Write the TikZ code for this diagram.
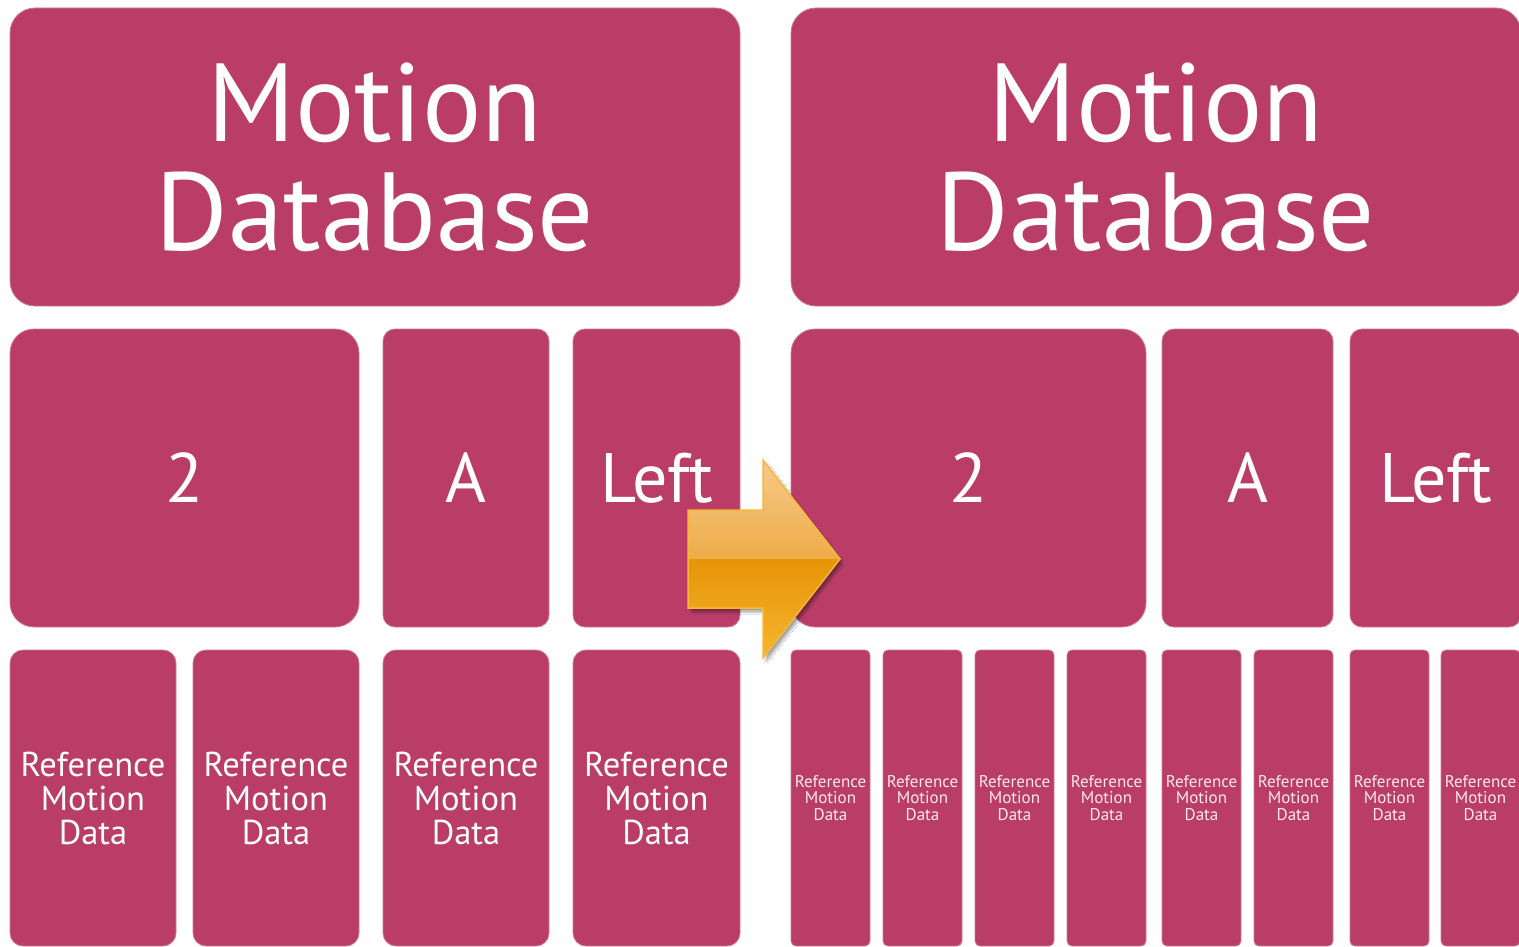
\documentclass[tikz,border=0pt]{standalone}
\usepackage{fontspec}
\setmainfont{PT Sans}
\usetikzlibrary{shadows.blur}
\definecolor{mag}{RGB}{185,61,103}
\definecolor{magedge}{RGB}{205,120,152}
\definecolor{arTopA}{RGB}{247,203,140}
\definecolor{arTopB}{RGB}{238,172,72}
\definecolor{arBotA}{RGB}{230,148,8}
\definecolor{arBotB}{RGB}{248,184,48}
\definecolor{arEdge}{RGB}{246,184,58}
\tikzset{
  box/.style={fill=mag, draw=magedge, line width=0.8pt, inner sep=0pt, outer sep=0pt,
    anchor=north west, text=white, align=center},
  bigtxt/.style={font=\fontsize{111}{109}\selectfont},
  midtxt/.style={font=\fontsize{70}{72}\selectfont},
  reftxt/.style={font=\fontsize{34.5}{34}\selectfont},
  smalltxt/.style={font=\fontsize{17}{16.5}\selectfont, text={rgb,255:red,250;green,232;blue,238}},
}
\begin{document}
\begin{tikzpicture}[x=1pt,y=-1pt]
\clip (0,0) rectangle (1519,947);
\fill[white] (0,0) rectangle (1519,947);
% ---------- left half ----------
\node[box, bigtxt, rounded corners=25pt, minimum width=730pt, minimum height=298pt] (ldb) at (10,8) {Motion\\Database};
\node[box, midtxt, rounded corners=24pt, minimum width=349pt, minimum height=298pt] (l2) at (10,329) {2};
\node[box, midtxt, rounded corners=12pt, minimum width=166pt, minimum height=298pt] (lA) at (383,329) {A};
\node[box, midtxt, rounded corners=12pt, minimum width=167pt, minimum height=298pt] (lL) at (573,329) {Left};
\node[box, reftxt, rounded corners=13pt, minimum width=166pt, minimum height=296pt] (lr1) at (10,650) {Reference\\Motion\\Data};
\node[box, reftxt, rounded corners=13pt, minimum width=166pt, minimum height=296pt] (lr2) at (193,650) {Reference\\Motion\\Data};
\node[box, reftxt, rounded corners=13pt, minimum width=166pt, minimum height=296pt] (lr3) at (383,650) {Reference\\Motion\\Data};
\node[box, reftxt, rounded corners=13pt, minimum width=167pt, minimum height=296pt] (lr4) at (573,650) {Reference\\Motion\\Data};
% ---------- right half ----------
\node[box, bigtxt, rounded corners=25pt, minimum width=730pt, minimum height=298pt] (rdb) at (791,8) {Motion\\Database};
\node[box, midtxt, rounded corners=24pt, minimum width=355pt, minimum height=298pt] (r2) at (791,329) {2};
\node[box, midtxt, rounded corners=12pt, minimum width=171pt, minimum height=298pt] (rA) at (1162,329) {A};
\node[box, midtxt, rounded corners=12pt, minimum width=171pt, minimum height=298pt] (rL) at (1350,329) {Left};
\foreach \i/\x in {1/791,2/883,3/975,4/1067,5/1162,6/1254,7/1350,8/1441}{
  \node[box, smalltxt, rounded corners=5pt, minimum width=79pt, minimum height=296pt] (rr\i) at (\x,650) {Reference\\Motion\\Data};
}
% ---------- arrow ----------
\def\arrowpath{(688,510) -- (763,510) -- (763,460) -- (840,559) -- (763,658) -- (763,608) -- (688,608) -- cycle}
\fill[white, blur shadow={shadow xshift=3pt, shadow yshift=-4pt, shadow blur steps=12, shadow blur extra rounding=2pt, shadow opacity=35}] \arrowpath;
\begin{scope}
  \clip \arrowpath;
  \shade[top color=arTopA, bottom color=arTopB] (680,455) rectangle (850,559);
  \shade[top color=arBotA, bottom color=arBotB] (680,559) rectangle (850,665);
\end{scope}
\draw[arEdge, line width=1.5pt, line join=miter] \arrowpath;
\end{tikzpicture}
\end{document}
